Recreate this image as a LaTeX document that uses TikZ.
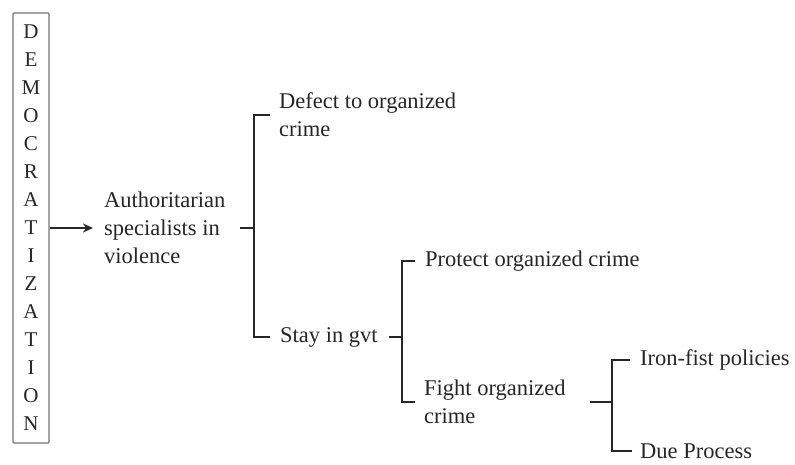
\documentclass[tikz,border=0pt]{standalone}
\usepackage{fontspec}
\setmainfont{Liberation Serif}
\usetikzlibrary{arrows.meta, positioning}

\begin{document}
\begin{tikzpicture}[
  x=1pt, y=-1pt,
  every node/.style={font=\fontsize{22.5}{28}\selectfont, text=black!85},
  item/.style={anchor=west, align=left, inner sep=0pt},
  vbox/.style={draw=black!55, line width=1.4pt, rounded corners=1pt, align=center, inner sep=0pt,
    minimum width=36pt, minimum height=430pt, font=\fontsize{21}{28}\selectfont},
  fork/.style={draw=black!85, line width=2.2pt},
  link/.style={draw=black!85, line width=1.7pt, -{Stealth[length=10pt,width=9pt]}}
]
  \useasboundingbox (0,0) rectangle (795,464);
  \node[vbox] (demo) at (31,228) {D\\E\\M\\O\\C\\R\\A\\T\\I\\Z\\A\\T\\I\\O\\N};
  \node[item] (auth) at (104,228) {Authoritarian\\specialists in\\violence};
  \node[item] (defect) at (279,115) {Defect to organized\\crime};
  \node[item] (stay) at (280,337) {Stay in gvt};
  \node[item] (protect) at (425,261) {Protect organized crime};
  \node[item] (fight) at (424,402) {Fight organized\\crime};
  \node[item] (iron) at (640,360) {Iron-fist policies};
  \node[item] (due) at (640,451) {Due Process};

  \coordinate (fa) at (254,0);
  \coordinate (fb) at (402,0);
  \coordinate (fc) at (612,0);

  \draw[link] (demo.east) -- ([xshift=-11pt]auth.west);

  \draw[fork] ([xshift=14pt]auth.east) -- (fa |- auth.east);
  \draw[fork] ([xshift=-9pt]defect.west) -| (fa |- stay.west) -- ([xshift=-10pt]stay.west);

  \draw[fork] ([xshift=11pt]stay.east) -- (fb |- stay.east);
  \draw[fork] ([xshift=-10pt]protect.west) -| (fb |- fight.west) -- ([xshift=-9pt]fight.west);

  \draw[fork] ([xshift=24pt]fight.east) -- (fc |- fight.east);
  \draw[fork] ([xshift=-10pt]iron.west) -| (fc |- due.west) -- ([xshift=-8pt]due.west);
\end{tikzpicture}
\end{document}
